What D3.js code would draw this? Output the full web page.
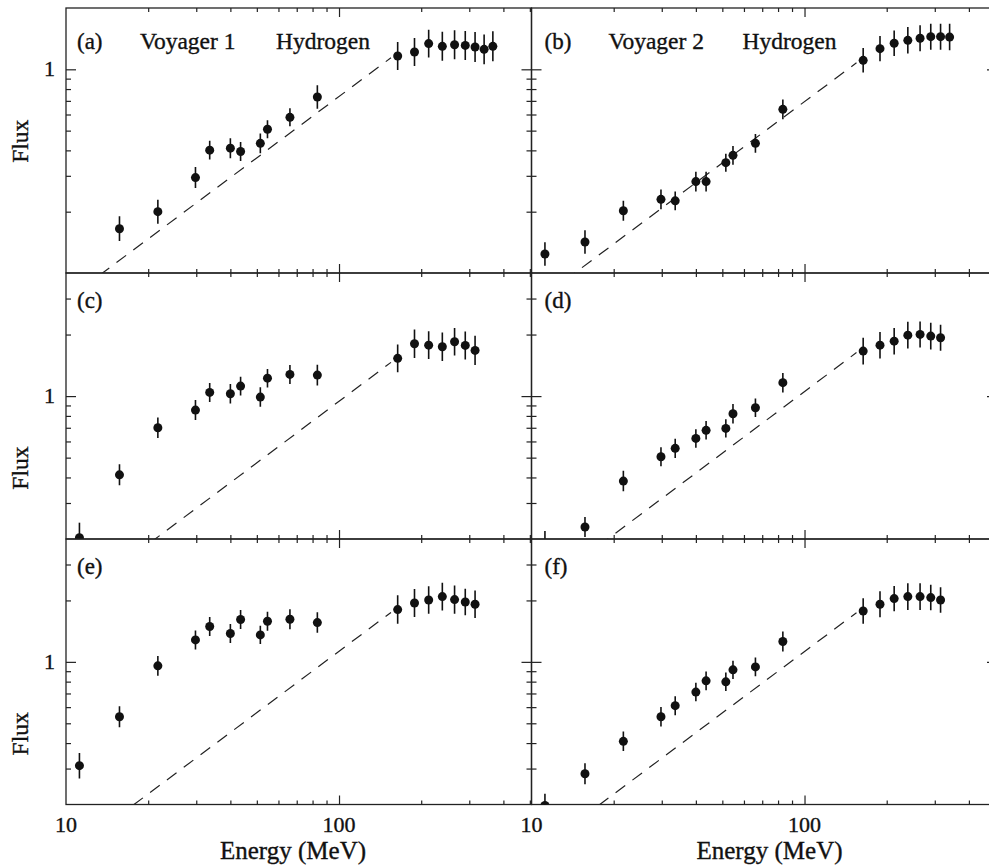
<!DOCTYPE html>
<meta charset="utf-8">
<style>
body { margin: 0; background: #fff; }
svg { display: block; }
text { font-family: "Liberation Serif", "Times New Roman", serif; fill: #111; stroke: #111; stroke-width: 0.35px; }
.frame { fill: none; stroke: #222; stroke-width: 1.3px; }
.tick line { stroke: #222; stroke-width: 1.2px; }
.dash { fill: none; stroke: #222; stroke-width: 1.2px; stroke-dasharray: 12, 9; }
.err { stroke: #111; stroke-width: 1.6px; }
.pt { fill: #111; }
</style>
<body>
<script src="https://cdn.jsdelivr.net/npm/d3@7"></script>
<script>

// energies (MeV) shared by all panels
var energy = [11.2, 15.7, 21.7, 29.8, 33.6, 40, 43.6, 51.5, 54.7, 66.1, 83.3,
              164, 189, 213, 239, 265, 290, 315, 340, 366];

// flux values, null = not plotted
var fluxA = [null, 0.165, 0.20, 0.294, 0.401, 0.41, 0.395, 0.433, 0.508, 0.581, 0.731,
             1.162, 1.216, 1.337, 1.297, 1.32, 1.31, 1.287, 1.253, 1.297];
var fluxB = [0.124, 0.142, 0.202, 0.230, 0.226, 0.281, 0.281, 0.348, 0.378, 0.433, 0.636,
             1.107, 1.263, 1.342, 1.388, 1.42, 1.446, 1.446, 1.44, null];
var fluxC = [0.203, 0.412, 0.700, 0.854, 1.042, 1.027, 1.119, 0.989, 1.224, 1.277, 1.267,
             1.53, 1.803, 1.775, 1.744, 1.845, 1.77, 1.673, null, null];
var fluxD = [0.185, 0.229, 0.384, 0.505, 0.555, 0.621, 0.680, 0.695, 0.820, 0.877, 1.163,
             1.66, 1.775, 1.857, 1.987, 2.003, 1.965, 1.929, null, null];
var fluxE = [0.310, 0.538, 0.956, 1.281, 1.49, 1.377, 1.612, 1.355, 1.581, 1.618, 1.558,
             1.804, 1.943, 2.01, 2.088, 2.019, 1.965, 1.916, null, null];
var fluxF = [0.198, 0.283, 0.408, 0.538, 0.610, 0.711, 0.807, 0.798, 0.914, 0.945, 1.258,
             1.775, 1.916, 2.042, 2.088, 2.088, 2.065, 2.01, null, null];

// fractional errors
var errA = [0, 0.15, 0.145, 0.126, 0.113, 0.119, 0.113, 0.119, 0.107, 0.107, 0.141,
            0.171, 0.171, 0.171, 0.178, 0.178, 0.178, 0.184, 0.184, 0.184];
var errB = [0.141, 0.141, 0.119, 0.119, 0.113, 0.119, 0.119, 0.107, 0.113, 0.113, 0.119,
            0.149, 0.154, 0.155, 0.162, 0.158, 0.158, 0.158, 0.162, 0];
var errC = [0.184, 0.126, 0.123, 0.119, 0.113, 0.116, 0.11, 0.116, 0.11, 0.113, 0.123,
            0.169, 0.174, 0.169, 0.174, 0.167, 0.171, 0.178, 0, 0];
var errD = [0.184, 0.119, 0.122, 0.113, 0.113, 0.11, 0.11, 0.109, 0.116, 0.11, 0.116,
            0.162, 0.161, 0.161, 0.162, 0.158, 0.162, 0.158, 0, 0];
var errE = [0.155, 0.126, 0.119, 0.113, 0.113, 0.113, 0.113, 0.109, 0.113, 0.119, 0.123,
            0.174, 0.171, 0.167, 0.169, 0.174, 0.162, 0.169, 0, 0];
var errF = [0.141, 0.126, 0.117, 0.116, 0.113, 0.11, 0.113, 0.11, 0.109, 0.113, 0.119,
            0.155, 0.158, 0.152, 0.162, 0.162, 0.155, 0.155, 0, 0];

// dashed reference line: flux at the two end energies
var dashEnergy = [10, 155];
var dashA = [0.0735, 1.14];
var dashB = [0.0694, 1.076];
var dashC = [0.0943, 1.462];
var dashD = [0.105, 1.632];
var dashE = [0.1127, 1.747];
var dashF = [0.1124, 1.742];

var labels = ["(a)", "(b)", "(c)", "(d)", "(e)", "(f)"];
var titles = [["Voyager 1", "Hydrogen"], ["Voyager 2", "Hydrogen"], null, null, null, null];
var yDomains = [[0.1, 2], [0.2, 4], [0.2, 4]];
var xDomain = [10, 507];
var xMinor = [20, 30, 40, 50, 60, 70, 80, 90, 200, 300, 400, 500];
var xMajor = [100];
var yMinorAll = [0.2, 0.3, 0.4, 0.5, 0.6, 0.7, 0.8, 0.9, 2, 3];

var panels = [
  {flux: fluxA, err: errA, dash: dashA},
  {flux: fluxB, err: errB, dash: dashB},
  {flux: fluxC, err: errC, dash: dashC},
  {flux: fluxD, err: errD, dash: dashD},
  {flux: fluxE, err: errE, dash: dashE},
  {flux: fluxF, err: errF, dash: dashF}
];

var width = 989, height = 866;
var colX = [66, 531.5], colW = 465.5;
var rowY = [8, 273, 539], rowH = [265, 266, 265.5];

var svg = d3.select("body").append("svg")
    .attr("width", width)
    .attr("height", height);

svg.append("rect").attr("width", width).attr("height", height).attr("fill", "#fff");

var defs = svg.append("defs");

panels.forEach(function(p, i) {
  var col = i % 2, row = Math.floor(i / 2);
  var h = rowH[row];
  var x = d3.scaleLog().domain(xDomain).range([0, colW]);
  var y = d3.scaleLog().domain(yDomains[row]).range([h, 0]);
  var lo = yDomains[row][0], hi = yDomains[row][1];
  var yMinor = yMinorAll.filter(function(v) { return v > lo && v < hi; });

  var g = svg.append("g").attr("transform", "translate(" + colX[col] + "," + rowY[row] + ")");

  defs.append("clipPath").attr("id", "clip" + i)
    .append("rect").attr("width", colW).attr("height", h);

  function noDomain(s) { s.select(".domain").remove(); }

  g.append("g").attr("transform", "translate(0," + h + ")")
    .call(d3.axisBottom(x).tickValues(xMinor).tickSize(-4).tickFormat("")).call(noDomain);
  g.append("g").attr("transform", "translate(0," + h + ")")
    .call(d3.axisBottom(x).tickValues(xMajor).tickSize(-9).tickFormat("")).call(noDomain);
  g.append("g")
    .call(d3.axisTop(x).tickValues(xMinor).tickSize(-4).tickFormat("")).call(noDomain);
  g.append("g")
    .call(d3.axisTop(x).tickValues(xMajor).tickSize(-9).tickFormat("")).call(noDomain);
  g.append("g")
    .call(d3.axisLeft(y).tickValues(yMinor).tickSize(-5).tickFormat("")).call(noDomain);
  g.append("g")
    .call(d3.axisLeft(y).tickValues([1]).tickSize(-10).tickFormat("")).call(noDomain);
  g.append("g").attr("transform", "translate(" + colW + ",0)")
    .call(d3.axisRight(y).tickValues(yMinor).tickSize(-5).tickFormat("")).call(noDomain);
  g.append("g").attr("transform", "translate(" + colW + ",0)")
    .call(d3.axisRight(y).tickValues([1]).tickSize(-10).tickFormat("")).call(noDomain);

  g.append("rect").attr("class", "frame").attr("width", colW).attr("height", h);

  var plot = g.append("g").attr("clip-path", "url(#clip" + i + ")");

  var line = d3.line().x(function(d) { return x(d[0]); }).y(function(d) { return y(d[1]); });
  plot.append("path").attr("class", "dash")
    .attr("d", line(d3.zip(dashEnergy, p.dash)));

  var pts = energy.map(function(e, k) { return {e: e, f: p.flux[k], r: p.err[k]}; })
    .filter(function(d) { return d.f != null; });

  plot.selectAll(".err").data(pts).enter().append("line")
    .attr("class", "err")
    .attr("x1", function(d) { return x(d.e); })
    .attr("x2", function(d) { return x(d.e); })
    .attr("y1", function(d) { return y(d.f * (1 + d.r)); })
    .attr("y2", function(d) { return y(d.f / (1 + d.r)); });

  plot.selectAll(".pt").data(pts).enter().append("circle")
    .attr("class", "pt")
    .attr("cx", function(d) { return x(d.e); })
    .attr("cy", function(d) { return y(d.f); })
    .attr("r", 4.5);

  // panel label
  g.append("text").attr("x", col ? 13 : 11).attr("y", row ? 35 : 41)
    .style("font-size", "23px").text(labels[i]);
  if (titles[i]) {
    g.append("text").attr("x", col ? 77 : 74).attr("y", 41).style("font-size", "23.5px").text(titles[i][0]);
    g.append("text").attr("x", col ? 211 : 210).attr("y", 41).style("font-size", "23.5px").text(titles[i][1]);
  }

  if (col === 0) {
    g.append("text").attr("x", -11).attr("y", y(1) + 7)
      .attr("text-anchor", "end").style("font-size", "22px").text("1");
    g.append("text")
      .attr("transform", "translate(-38," + (y(1) + 72) + ") rotate(-90)")
      .attr("text-anchor", "middle").style("font-size", "23.5px").text("Flux");
  }

  if (row === 2) {
    [10, 100].forEach(function(v) {
      g.append("text").attr("x", x(v)).attr("y", h + 27)
        .attr("text-anchor", "middle").style("font-size", "22px").text(v);
    });
    g.append("text").attr("x", col ? 238 : 227).attr("y", h + 54)
      .attr("text-anchor", "middle").style("font-size", "25px").text("Energy (MeV)");
  }
});

</script>
</body>
</html>
